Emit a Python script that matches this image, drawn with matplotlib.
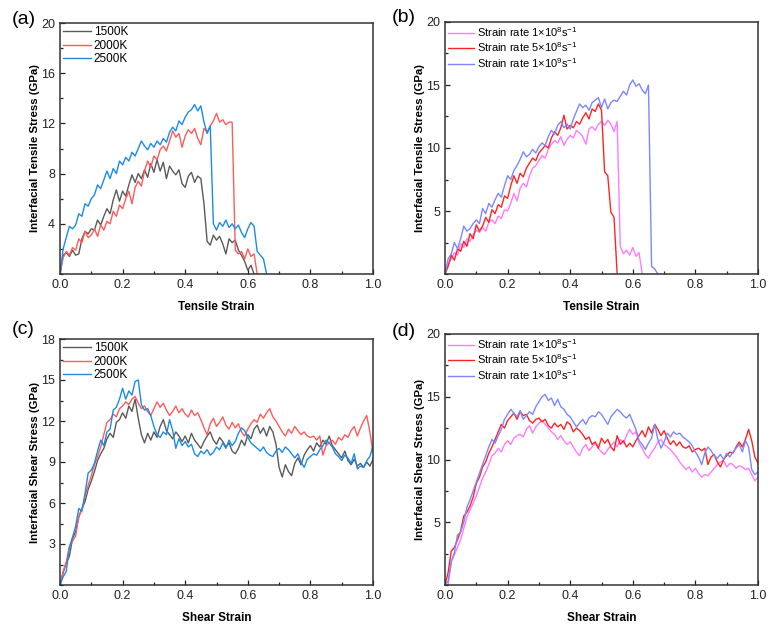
import numpy as np
import matplotlib
matplotlib.use('Agg')
import matplotlib.pyplot as plt
from matplotlib.ticker import MultipleLocator, FormatStrFormatter

plt.rcParams['font.family'] = ['Liberation Sans', 'DejaVu Sans']
plt.rcParams['mathtext.fontset'] = 'custom'
plt.rcParams['mathtext.rm'] = 'Liberation Sans'
plt.rcParams['mathtext.it'] = 'Liberation Sans:italic'
plt.rcParams['mathtext.bf'] = 'Liberation Sans:bold'

# ---- (a) tensile, temperature ----
ta_1500 = [0, 1.5, 1.7, 1.4, 1.9, 1.5, 1.6, 2.8, 3.4, 3.2,
           3.6, 3.5, 4.3, 3.9, 4.6, 5.2, 4.8, 5.9, 6.7, 5.8,
           6.6, 6.2, 7.1, 7.9, 7.3, 8.0, 7.6, 8.3, 7.7, 8.8,
           8.1, 9.1, 8.2, 8.9, 7.6, 8.6, 8.2, 7.9, 8.3, 7.2,
           6.9, 7.8, 8.1, 7.3, 7.8, 7.6, 5.6, 2.6, 2.3, 3.1,
           2.7, 3.0, 2.4, 1.6, 2.8, 2.5, 2.7, 1.9, 1.5, 1.0,
           0.3, 0.7, 0.0]
ta_2000 = [0, 1.3, 1.8, 1.5, 2.1, 1.9, 2.8, 2.5, 3.4, 2.9,
           3.1, 3.6, 3.0, 3.9, 3.5, 4.2, 4.0, 5.0, 4.6, 5.5,
           5.2, 6.0, 6.6, 5.6, 6.9, 7.4, 7.0, 8.2, 9.0, 8.5,
           9.4, 9.1, 9.9, 10.2, 9.8, 10.6, 11.4, 10.9, 11.2, 10.1,
           11.0, 11.5, 11.2, 11.6, 10.8, 10.3, 11.6, 11.3, 11.8, 12.2,
           12.8, 12.1, 12.3, 11.9, 12.1, 12.1, 1.9, 1.6, 1.8, 1.2,
           2.0, 1.4, 1.6, 0.0]
ta_2500 = [0, 2.0, 2.9, 3.8, 3.6, 3.9, 4.8, 4.6, 5.6, 5.4,
           6.0, 6.3, 7.1, 6.8, 7.5, 8.2, 7.6, 8.4, 8.0, 9.0,
           8.7, 9.3, 9.0, 9.7, 9.4, 10.0, 10.6, 10.2, 9.9, 10.4,
           10.1, 10.6, 10.3, 10.8, 10.5, 11.3, 11.7, 11.4, 12.2, 11.9,
           12.5, 12.9, 13.1, 13.5, 13.0, 13.4, 12.1, 11.2, 11.8, 4.0,
           3.5, 4.1, 3.8, 4.3, 3.7, 4.0, 3.6, 3.9, 3.3, 2.9,
           3.6, 4.1, 3.8, 1.8, 1.5, 1.2, 0.0]

# ---- (b) tensile, strain rate ----
tb_1e8 = [0, 0.8, 1.2, 1.7, 1.5, 2.4, 2.1, 2.8, 2.6, 3.1,
          3.5, 3.3, 3.7, 3.4, 4.1, 4.3, 4.0, 4.6, 4.4, 5.1,
          5.0, 5.6, 6.4, 5.8, 6.8, 7.2, 6.9, 7.8, 8.4, 8.6,
          9.0, 9.4, 9.2, 9.9, 10.3, 10.6, 10.4, 10.9, 10.2, 10.7,
          11.0, 10.8, 11.4, 11.2, 10.9, 10.3, 11.5, 11.7, 11.4, 11.9,
          12.1, 11.8, 12.2, 11.9, 11.3, 12.1, 2.2, 1.6, 1.9, 1.5,
          2.1, 1.4, 1.7, 0]
tb_5e8 = [0, 0.6, 1.5, 1.1, 2.0, 1.8, 2.6, 2.2, 3.2, 2.8,
          3.9, 3.4, 3.8, 4.5, 4.1, 5.1, 4.8, 5.5, 5.3, 6.2,
          6.0, 7.0, 7.8, 7.2, 8.0, 7.7, 8.4, 8.8, 9.2, 9.0,
          9.6, 9.9, 10.2, 10.0, 10.8, 11.3, 11.0, 11.6, 12.6, 11.5,
          11.8, 11.6, 12.1, 11.9, 12.4, 12.8, 12.3, 13.1, 12.9, 13.5,
          13.0, 8.1, 7.8, 4.9, 4.5, 0]
tb_1e9 = [0, 1.2, 1.6, 2.5, 2.0, 2.8, 3.8, 3.4, 3.6, 4.0,
          4.3, 4.0, 5.2, 4.8, 5.6, 5.3, 5.9, 6.4, 6.1, 7.0,
          7.8, 7.5, 8.2, 8.6, 9.1, 9.7, 9.3, 9.5, 9.9, 9.6,
          10.1, 10.4, 10.2, 10.9, 11.4, 11.1, 11.8, 12.1, 11.6, 11.9,
          11.5, 12.3, 12.9, 13.5, 13.2, 13.4, 13.0, 13.6, 13.8, 14.0,
          13.2, 13.9, 13.1, 13.6, 13.8, 13.7, 14.1, 14.5, 14.2, 15.0,
          15.4, 14.9, 15.1, 14.6, 14.3, 15.0, 0.6, 0.4, 0]

# ---- (c) shear, temperature ----
sc_1500 = [0, 0.9, 1.6, 2.1, 3.4, 3.9, 5.0, 5.6, 6.1, 7.0,
           7.6, 8.3, 9.1, 9.6, 10.0, 10.7, 11.1, 10.8, 11.9, 12.1,
           12.6, 12.2, 13.1, 12.7, 13.6, 12.2, 11.0, 10.4, 11.1, 10.6,
           11.2, 10.8, 11.6, 12.1, 11.3, 11.0, 10.7, 11.2, 10.9, 10.5,
           10.9, 10.4, 11.1, 10.6, 10.3, 10.0, 10.5, 10.9, 11.2, 10.6,
           10.3, 10.8, 10.5, 10.1, 10.4, 9.8, 9.6, 10.0, 10.6, 10.2,
           11.0, 10.7, 11.4, 11.7, 11.1, 11.5, 10.9, 11.6, 11.2, 10.3,
           8.6, 7.9, 8.8, 8.3, 8.0, 8.9, 9.3, 8.8, 9.5, 9.9,
           10.2, 9.8, 10.4, 10.1, 10.6, 10.3, 10.9, 10.2, 9.9, 9.6,
           9.3, 9.8, 9.1, 8.8, 9.2, 8.7, 8.9, 8.6, 9.0, 8.7,
           9.2]
sc_2000 = [0, 1.0, 1.7, 2.8, 3.2, 3.6, 5.0, 5.5, 6.5, 7.3,
           8.0, 8.8, 9.4, 10.1, 11.0, 11.9, 12.1, 12.5, 12.3, 12.9,
           13.1, 13.4, 13.2, 13.6, 13.8, 13.3, 12.9, 13.1, 12.7, 12.4,
           12.9, 13.4, 13.0, 13.3, 12.8, 12.4, 12.7, 13.1, 12.6, 12.9,
           12.5, 12.3, 12.8, 12.4, 12.6, 12.1, 11.5, 11.0, 11.8, 12.2,
           11.6, 11.9, 12.3, 11.7, 11.4, 11.9, 11.5, 11.8, 11.2, 10.9,
           11.4, 11.8, 12.1, 11.9, 12.5, 12.2, 12.6, 12.9, 12.3, 12.0,
           11.6, 11.2, 10.9, 11.4, 11.1, 11.6, 11.3, 11.0, 11.2, 10.9,
           10.8, 10.9, 10.6, 10.9, 9.5, 10.2, 10.4, 10.6, 10.3, 10.8,
           10.6, 11.0, 10.8, 11.3, 11.6, 10.9, 11.5, 12.0, 12.4, 11.2,
           9.7]
sc_2500 = [0, 0.6, 1.0, 2.8, 3.5, 4.3, 5.6, 5.4, 6.7, 8.2,
           8.4, 8.9, 9.8, 10.6, 10.2, 11.2, 11.4, 12.8, 13.0, 13.6,
           14.4, 13.6, 14.2, 13.9, 14.9, 15.0, 13.2, 12.8, 12.9, 12.4,
           11.6, 11.0, 10.8, 11.2, 11.0, 12.1, 11.3, 10.0, 10.7, 10.2,
           10.5, 10.1, 10.3, 9.6, 9.4, 9.8, 9.6, 9.9, 9.5, 9.7,
           10.1, 9.9, 10.4, 10.0, 10.6, 10.2, 10.5, 11.1, 11.5, 11.3,
           10.8, 10.4, 10.2, 10.0, 9.8, 10.1, 9.7, 9.5, 9.4, 9.8,
           10.0, 9.7, 10.1, 9.9, 9.6, 9.3, 9.6, 9.0, 8.6, 9.2,
           9.4, 9.6, 9.5, 9.9, 10.2, 10.6, 10.4, 10.1, 9.6, 9.4,
           9.1, 9.5, 9.3, 8.9, 9.6, 8.5, 8.7, 8.6, 9.1, 9.4,
           10.2]

# ---- (d) shear, strain rate ----
sd_1e8 = [0, 0, 1.9, 2.4, 3.0, 3.6, 4.5, 5.4, 6.0, 6.5,
          7.1, 7.8, 8.5, 9.0, 9.6, 10.3, 10.5, 10.9, 10.6, 11.2,
          11.5, 11.2, 11.7, 11.9, 12.0, 11.8, 12.4, 12.7, 12.1, 12.6,
          12.9, 13.1, 12.8, 12.5, 12.2, 12.0, 11.6, 11.9, 11.5, 11.2,
          11.4, 11.0, 10.6, 10.3, 10.9, 11.2, 10.7, 11.0, 11.3, 10.9,
          10.6, 10.4, 10.8, 11.1, 11.4, 11.0, 11.6, 11.3, 11.9, 12.4,
          12.0, 12.2, 11.3, 10.9, 10.4, 10.1, 10.6, 10.9, 11.4, 11.6,
          11.2, 11.0, 10.8, 10.5, 10.2, 9.8, 9.5, 9.2, 9.4, 9.0,
          9.3, 8.9, 8.6, 8.8, 8.7, 9.0, 9.3, 9.6, 9.8, 9.9,
          9.4, 9.7, 9.6, 9.3, 9.5, 9.4, 9.2, 9.3, 8.8, 8.3,
          8.6]
sd_5e8 = [0, 1.0, 2.7, 3.0, 3.6, 4.3, 5.5, 5.8, 6.3, 7.0,
          8.1, 8.6, 9.4, 9.8, 10.5, 11.0, 11.6, 12.2, 12.8, 12.5,
          13.1, 13.4, 13.7, 13.2, 13.8, 13.5, 13.6, 13.1, 12.9, 13.2,
          13.3, 13.0, 13.2, 12.7, 12.5, 12.9, 12.6, 12.8, 12.4, 13.0,
          12.8, 12.2, 12.5, 12.3, 12.0, 11.6, 11.8, 11.2, 11.4, 10.9,
          11.7, 11.3, 11.6, 11.0, 10.7, 11.9, 11.2, 11.5, 11.0, 11.3,
          11.0, 11.5, 11.9, 12.3, 11.8, 12.6, 12.1, 12.8, 12.4, 11.9,
          12.3, 11.7, 11.2, 11.5, 11.1, 11.4, 11.0, 10.9, 11.1, 10.6,
          10.8, 10.9, 10.7, 10.9, 9.6, 10.2, 10.4, 9.8, 9.4, 10.0,
          10.3, 10.6, 10.5, 11.0, 11.4, 11.0, 11.6, 12.4, 11.5, 10.2,
          9.7]
sd_1e9 = [0, 0.3, 1.8, 2.6, 4.0, 4.2, 5.0, 6.2, 6.8, 7.5,
          8.2, 8.9, 9.6, 10.3, 11.0, 11.6, 11.3, 11.9, 12.4, 13.2,
          13.6, 14.0, 13.7, 13.4, 13.9, 13.2, 13.5, 13.8, 13.6, 14.2,
          14.6, 15.0, 15.2, 14.7, 14.9, 14.3, 14.8, 14.2, 14.0, 13.6,
          13.4, 13.0, 12.6, 12.9, 13.2, 12.8, 13.3, 13.5, 13.4, 13.8,
          13.6, 13.2, 12.8, 13.4, 13.7, 14.0, 13.8, 13.5, 13.3, 13.6,
          13.0, 12.4, 11.5, 11.2, 10.8, 11.3, 11.7, 12.8, 11.6, 10.9,
          11.4, 12.1, 11.8, 12.2, 12.0, 12.1, 11.8, 11.6, 11.4, 11.1,
          10.6, 10.2, 9.6, 10.5, 11.0, 10.7, 10.3, 10.1, 10.4, 10.0,
          10.5, 10.2, 10.6, 10.9, 11.2, 10.6, 11.5, 11.0, 9.2, 8.8,
          9.0]

temp_labels = ['1500K', '2000K', '2500K']
temp_colors = ['#5a5a5a', '#ff5b5b', '#1c8be6']
rate_labels = ['Strain rate 1$\\times$10$^{8}$s$^{-1}$',
               'Strain rate 5$\\times$10$^{8}$s$^{-1}$',
               'Strain rate 1$\\times$10$^{9}$s$^{-1}$']
rate_colors = ['#ff7cff', '#ff2424', '#7d87ff']


def strain(vals):
    # sampled every 0.01 strain
    return np.arange(len(vals)) * 0.01


fig = plt.figure(figsize=(7.76, 6.32), dpi=100)
W, H = 776.0, 632.0

# pos in pixels: left, top, right, bottom ; tag pos in pixels
panels = [
    ((60, 23, 373, 274), ('(a)', 12, 20), [ta_1500, ta_2000, ta_2500], temp_labels, temp_colors, 8.5,
     20, 4, 'Tensile Strain', 'Interfacial Tensile Stress (GPa)'),
    ((445, 22, 758, 274), ('(b)', 392, 17), [tb_1e8, tb_5e8, tb_1e9], rate_labels, rate_colors, 8,
     20, 5, 'Tensile Strain', 'Interfacial Tensile Stress (GPa)'),
    ((60, 339, 373, 585), ('(c)', 12, 330), [sc_1500, sc_2000, sc_2500], temp_labels, temp_colors, 8.5,
     18, 3, 'Shear Strain', 'Interfacial Shear Stress (GPa)'),
    ((445, 334, 758, 585), ('(d)', 392, 331), [sd_1e8, sd_5e8, sd_1e9], rate_labels, rate_colors, 8,
     20, 5, 'Shear Strain', 'Interfacial Shear Stress (GPa)'),
]

for box, tag, curves, labels, colors, legsize, ymax, ystep, xlab, ylab in panels:
    l, t, r, b = box
    ax = fig.add_axes([l / W, 1 - b / H, (r - l) / W, (b - t) / H])
    for vals, lab, col in zip(curves, labels, colors):
        ax.plot(strain(vals), vals, color=col, lw=1.0, label=lab)
    ax.set_xlim(0, 1)
    ax.set_ylim(0, ymax)
    ax.set_yticks(np.arange(ystep, ymax + 0.1, ystep))
    ax.xaxis.set_major_locator(MultipleLocator(0.2))
    ax.xaxis.set_minor_locator(MultipleLocator(0.1))
    ax.yaxis.set_minor_locator(MultipleLocator(ystep / 2))
    ax.xaxis.set_major_formatter(FormatStrFormatter('%.1f'))
    ax.tick_params(which='both', direction='in', top=False, right=False,
                   labelsize=9, colors='#222222', width=0.9)
    ax.tick_params(which='major', length=3.5)
    ax.tick_params(which='minor', length=2)
    for sp in ax.spines.values():
        sp.set_linewidth(1.1)
        sp.set_color('#333333')
    ax.set_xlabel(xlab, fontsize=8.5, fontweight='bold', labelpad=7)
    ax.set_ylabel(ylab, fontsize=8.2, fontweight='bold', labelpad=1)
    ax.legend(loc='upper left', frameon=False, borderaxespad=0.25, borderpad=0,
              handlelength=2.4, handletextpad=0.2, labelspacing=0.15, fontsize=legsize)
    fig.text(tag[1] / W, 1 - tag[2] / H, tag[0], fontsize=14, va='center', ha='left')

plt.savefig('out.png', dpi=100)
